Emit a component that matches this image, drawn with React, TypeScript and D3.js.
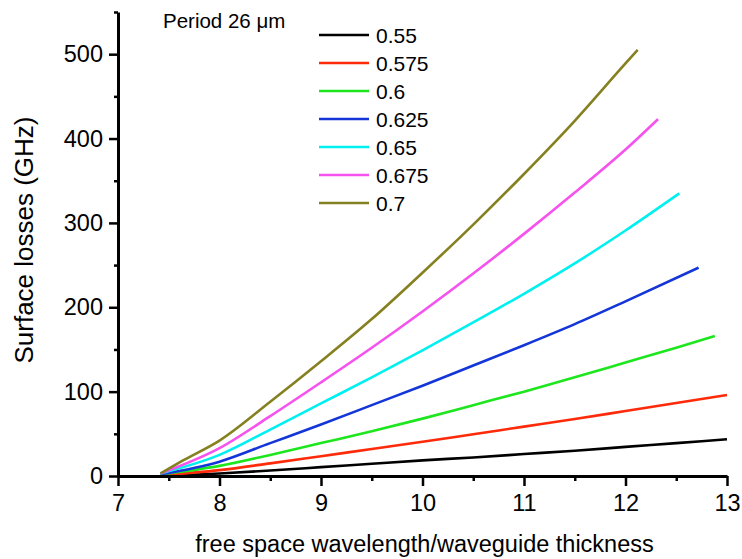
import { useRef, useEffect } from 'react';
import * as d3 from 'd3';

// wavelength/thickness, surface loss (GHz) for each duty value
const loss055 = [[7.42, 0], [8, 3], [8.5, 6.5], [9, 10.5], [9.5, 14.5], [10, 18.5], [10.5, 22], [11, 26], [11.5, 30], [12, 34.5], [12.5, 39], [13, 43.5]];
const loss0575 = [[7.42, 1], [8, 7], [8.5, 15], [9, 23.5], [9.5, 32], [10, 40.5], [10.5, 49.5], [11, 58.5], [11.5, 67.5], [12, 77], [12.5, 86.5], [13, 96]];
const loss06 = [[7.42, 2], [8, 12], [8.5, 25], [9, 39], [9.5, 53], [10, 68], [10.5, 84], [11, 100], [11.5, 117], [12, 134.5], [12.5, 152], [12.88, 166]];
const loss0625 = [[7.42, 2], [8, 17], [8.5, 39], [9, 61], [9.5, 84], [10, 107], [10.5, 131], [11, 155], [11.5, 180], [12, 207], [12.72, 247]];
const loss065 = [[7.42, 3], [8, 25], [8.5, 55], [9, 86], [9.5, 117], [10, 149], [10.5, 182], [11, 216], [11.5, 252], [12, 291], [12.53, 335]];
const loss0675 = [[7.42, 3], [8, 33], [8.5, 71], [9, 111], [9.5, 152], [10, 195], [10.5, 240], [11, 287], [11.5, 336], [12, 387], [12.32, 423]];
const loss07 = [[7.42, 3], [7.65, 19], [8, 42], [8.5, 88], [9, 136], [9.5, 186], [10, 241], [10.5, 298], [11, 358], [11.5, 421], [12, 489], [12.12, 505]];

const dutyLabels = ['0.55', '0.575', '0.6', '0.625', '0.65', '0.675', '0.7'];
const seriesColors = ['#000000', '#ff2a0a', '#1ee61e', '#1436d8', '#00f0f0', '#f552ee', '#858020'];
const allSeries = [loss055, loss0575, loss06, loss0625, loss065, loss0675, loss07];

const xTicks = [7, 8, 9, 10, 11, 12, 13];
const yTicks = [0, 100, 200, 300, 400, 500];

const FONT = 'Arial, "Liberation Sans", sans-serif';

const App = () => {
  const svgRef = useRef(null);

  useEffect(() => {
    const width = 742;
    const height = 559;
    const margin = { top: 12, right: 15, bottom: 83, left: 118 };

    const svg = d3.select(svgRef.current);
    svg.selectAll('*').remove();

    const x = d3.scaleLinear().domain([7, 13]).range([margin.left, width - margin.right]);
    const y = d3.scaleLinear().domain([0, 550]).range([height - margin.bottom, margin.top]);

    const line = d3.line()
      .x(d => x(d[0]))
      .y(d => y(d[1]))
      .curve(d3.curveMonotoneX);

    svg.append('g')
      .selectAll('path')
      .data(allSeries)
      .join('path')
      .attr('d', d => line(d))
      .attr('fill', 'none')
      .attr('stroke', (d, i) => seriesColors[i])
      .attr('stroke-width', 2.6)
      .attr('stroke-linejoin', 'round');

    // x axis
    const xAxis = svg.append('g').attr('transform', `translate(0,${y(0)})`);
    xAxis.call(d3.axisBottom(x).tickValues(xTicks).tickFormat(d3.format('d')).tickSize(10).tickPadding(8).tickSizeOuter(0));
    xAxis.append('g')
      .call(d3.axisBottom(x).tickValues(d3.range(7.5, 13, 1)).tickSize(5).tickFormat(() => '').tickSizeOuter(0))
      .select('.domain').remove();

    // y axis
    const yAxis = svg.append('g').attr('transform', `translate(${x(7)},0)`);
    yAxis.call(d3.axisLeft(y).tickValues(yTicks).tickSize(9).tickPadding(6).tickSizeOuter(0));
    yAxis.append('g')
      .call(d3.axisLeft(y).tickValues(d3.range(50, 551, 100)).tickSize(4).tickFormat(() => '').tickSizeOuter(0))
      .select('.domain').remove();

    svg.selectAll('.domain').attr('stroke', '#000').attr('stroke-width', 3);
    svg.selectAll('.tick line').attr('stroke', '#000').attr('stroke-width', 2.5);
    svg.selectAll('.tick text')
      .attr('font-family', FONT)
      .attr('font-size', 23.5)
      .attr('fill', '#000');

    // axis titles
    svg.append('text')
      .attr('x', (x(7) + x(13)) / 2 + 2)
      .attr('y', 552)
      .attr('text-anchor', 'middle')
      .attr('font-family', FONT)
      .attr('font-size', 23.5)
      .text('free space wavelength/waveguide thickness');

    svg.append('text')
      .attr('transform', `translate(33,${y(275) - 4}) rotate(-90)`)
      .attr('text-anchor', 'middle')
      .attr('font-family', FONT)
      .attr('font-size', 26)
      .text('Surface losses (GHz)');

    svg.append('text')
      .attr('x', 163)
      .attr('y', 27.5)
      .attr('font-family', FONT)
      .attr('font-size', 20.5)
      .text('Period 26 μm');

    // legend
    const legend = svg.append('g').attr('transform', 'translate(319,35)');
    const rows = legend.selectAll('g')
      .data(dutyLabels)
      .join('g')
      .attr('transform', (d, i) => `translate(0,${i * 28})`);
    rows.append('line')
      .attr('x1', 0).attr('x2', 50)
      .attr('stroke', (d, i) => seriesColors[i])
      .attr('stroke-width', 2.6);
    rows.append('text')
      .attr('x', 57)
      .attr('y', 8)
      .attr('font-family', FONT)
      .attr('font-size', 21)
      .text(d => d);
  }, []);

  return (
    <svg
      ref={svgRef}
      width="742"
      height="559"
      style={{ position: 'absolute', left: 0, top: 0, background: '#fff' }}
    ></svg>
  );
};

export default App;
